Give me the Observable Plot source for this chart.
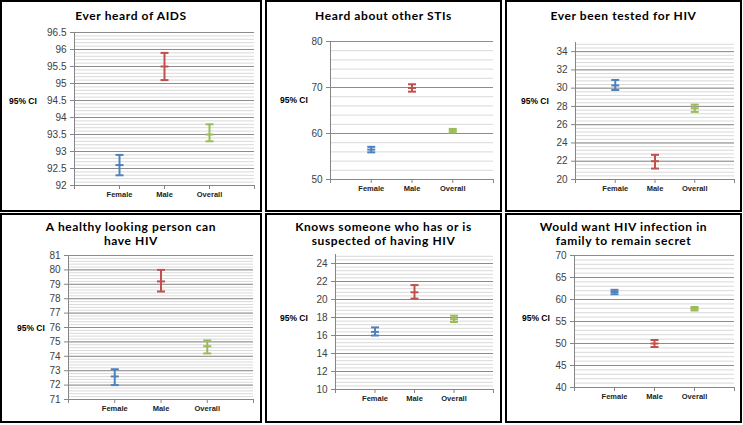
<!DOCTYPE html>
<html><head><meta charset="utf-8">
<script src="https://cdn.jsdelivr.net/npm/d3@7"></script>
<script src="https://cdn.jsdelivr.net/npm/@observablehq/plot@0.6"></script>
<style>
body{margin:0;background:#fff;}
#chart{position:relative;width:743px;height:425px;background:#fff;overflow:hidden;}
.panel{position:absolute;box-sizing:border-box;border:2px solid #000;background:#fff;}
.panel svg{position:absolute;left:0;top:0;}
.title{position:absolute;left:0;right:0;text-align:center;font-family:Lato,sans-serif;font-weight:bold;font-size:12px;letter-spacing:0.6px;color:#000;line-height:14.4px;}
.ci{position:absolute;font-family:"Liberation Sans",sans-serif;font-weight:bold;font-size:8.5px;color:#000;line-height:10px;}
</style></head><body><div id="chart"></div><script>
// ---- data ----
const categories = ["Female", "Male", "Overall"];
const panelTitles = [
  ["Ever heard of AIDS"],
  ["Heard about other STIs"],
  ["Ever been tested for HIV"],
  ["A healthy looking person can", "have HIV"],
  ["Knows someone who has or is", "suspected of having HIV"],
  ["Would want HIV infection in", "family to remain secret"]
];
const estimates = [
  [92.6, 95.5, 93.5],
  [56.5, 69.9, 60.6],
  [30.3, 22.0, 27.8],
  [72.6, 79.2, 74.7],
  [16.4, 20.8, 17.8],
  [61.7, 50.0, 57.9]
];
const lowerCI = [
  [92.3, 95.1, 93.3],
  [55.9, 69.1, 60.2],
  [29.8, 21.2, 27.4],
  [72.0, 78.5, 74.2],
  [16.0, 20.1, 17.5],
  [61.2, 49.2, 57.5]
];
const upperCI = [
  [92.9, 95.9, 93.8],
  [57.1, 70.7, 61.0],
  [30.9, 22.7, 28.2],
  [73.1, 80.0, 75.1],
  [16.9, 21.6, 18.2],
  [62.2, 50.8, 58.3]
];
const yTicks1 = [92, 92.5, 93, 93.5, 94, 94.5, 95, 95.5, 96, 96.5];
const yTicks2 = [50, 60, 70, 80];
const yTicks3 = [20, 22, 24, 26, 28, 30, 32, 34];
const yTicks4 = [71, 72, 73, 74, 75, 76, 77, 78, 79, 80, 81];
const yTicks5 = [10, 12, 14, 16, 18, 20, 22, 24];
const yTicks6 = [40, 45, 50, 55, 60, 65, 70];
const yTickLists = [yTicks1, yTicks2, yTicks3, yTicks4, yTicks5, yTicks6];
const yAxisMax = [96.5, 80, 35, 81, 25, 70];
const minorSteps = [0.1, 2, 0.4, 0.2, 0.4, 1];
const ciLabel = "95% CI";

// ---- style / layout ----
const seriesColors = ["#4F81BD", "#C0504D", "#9BBB59"];
const layout = [
  {left: 0,   top: 0,   w: 262, h: 212, m: [30, 6, 25, 72], ci: [7, 94],  tt: 7},
  {left: 265, top: 0,   w: 237, h: 212, m: [39, 7, 31, 63], ci: [13, 93], tt: 7},
  {left: 505, top: 0,   w: 237, h: 212, m: [40, 6, 31, 68], ci: [14, 94], tt: 7},
  {left: 0,   top: 213, w: 262, h: 210, m: [40, 7, 22, 66], ci: [15, 108], tt: 5},
  {left: 265, top: 213, w: 237, h: 210, m: [39, 7, 32, 68], ci: [13, 98], tt: 5},
  {left: 505, top: 213, w: 237, h: 210, m: [40, 6, 34, 67], ci: [15, 98], tt: 5}
];

const hline = {
  draw(context, size) {
    const r = Math.sqrt(size / Math.PI);
    context.moveTo(-r, 0);
    context.lineTo(r, 0);
  }
};

const chart = document.getElementById("chart");

layout.forEach((L, p) => {
  const panel = document.createElement("div");
  panel.className = "panel";
  panel.style.left = L.left + "px";
  panel.style.top = L.top + "px";
  panel.style.width = L.w + "px";
  panel.style.height = L.h + "px";
  chart.appendChild(panel);

  const innerW = L.w - 4, innerH = L.h - 4;
  const major = yTickLists[p];
  const ymin = major[0], ymax = yAxisMax[p];
  const minor = d3.range(ymin, ymax + 1e-9, minorSteps[p]).map(v => +v.toFixed(4));

  const rows = categories.map((c, i) => ({
    cat: c, x: i + 1, est: estimates[p][i], lo: lowerCI[p][i], hi: upperCI[p][i]
  }));

  const svg = Plot.plot({
    width: innerW,
    height: innerH,
    marginTop: L.m[0], marginRight: L.m[1], marginBottom: L.m[2], marginLeft: L.m[3],
    x: {domain: [0, 4], axis: null},
    y: {domain: [ymin, ymax], axis: null},
    color: {domain: categories, range: seriesColors},
    style: {background: "transparent", overflow: "visible"},
    marks: [
      Plot.ruleY(minor, {stroke: "#d9d9d9", strokeWidth: 1}),
      Plot.ruleY(major, {stroke: "#8c8c8c", strokeWidth: 1}),
      Plot.ruleX([0], {stroke: "#868686"}),
      Plot.ruleY([ymin], {stroke: "#868686"}),
      Plot.axisY({
        ticks: major, tickSize: 4, tickPadding: 4, label: null,
        tickFormat: d => `${d}`,
        stroke: "#868686", fill: "#404040",
        fontSize: 10, fontFamily: "Liberation Sans, sans-serif"
      }),
      Plot.axisX({
        ticks: [0, 1, 2, 3, 4], tickSize: 4, tickPadding: 2, label: null,
        tickFormat: d => categories[d - 1] ?? "",
        stroke: "#868686", fill: "#222",
        fontSize: 7.5, fontWeight: "bold", fontFamily: "Liberation Sans, sans-serif"
      }),
      Plot.ruleX(rows, {x: "x", y1: "lo", y2: "hi", stroke: "cat", strokeWidth: 2}),
      Plot.dot(rows, {x: "x", y: "lo", symbol: hline, r: 4, fill: "none", stroke: "cat", strokeWidth: 2}),
      Plot.dot(rows, {x: "x", y: "hi", symbol: hline, r: 4, fill: "none", stroke: "cat", strokeWidth: 2}),
      Plot.dot(rows, {x: "x", y: "est", symbol: hline, r: 4, fill: "none", stroke: "cat", strokeWidth: 2})
    ]
  });
  panel.appendChild(svg);

  const t = document.createElement("div");
  t.className = "title";
  t.style.top = L.tt + "px";
  t.innerHTML = panelTitles[p].join("<br>");
  panel.appendChild(t);

  const ci = document.createElement("div");
  ci.className = "ci";
  ci.style.left = L.ci[0] + "px";
  ci.style.top = L.ci[1] + "px";
  ci.textContent = ciLabel;
  panel.appendChild(ci);
});
</script></body></html>
